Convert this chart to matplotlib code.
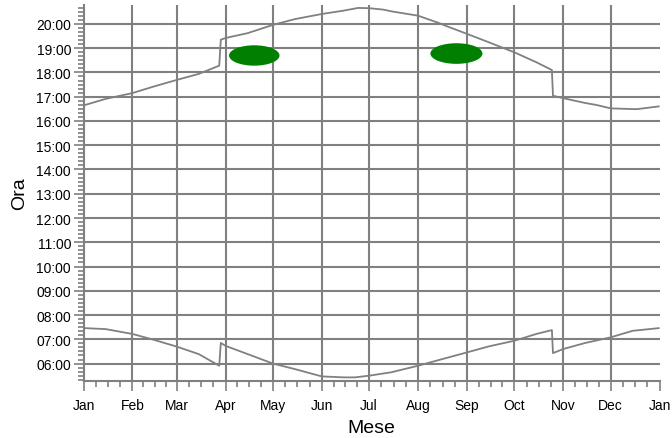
import numpy as np
import matplotlib
matplotlib.use('Agg')
import matplotlib.pyplot as plt
from matplotlib.patches import Ellipse
from matplotlib.ticker import FixedLocator, MultipleLocator, FuncFormatter

# ============================= DATA =============================
# day of year (0 = 1 Jan) and time in decimal hours
month_labels = ['Jan', 'Feb', 'Mar', 'Apr', 'May', 'Jun', 'Jul',
                'Aug', 'Sep', 'Oct', 'Nov', 'Dec', 'Jan']
month_starts = [0, 31, 59, 90, 120, 151, 181, 212, 243, 273, 304, 334, 365]

# sunset (upper curve), with the DST jumps
sunset_day = [1, 14, 31, 45, 59, 73, 86, 87, 90, 104, 120, 134, 151, 165, 174,
              181, 190, 195, 212, 226, 228, 243, 257, 273, 287, 296.8, 297.5,
              304, 318, 325, 334, 348, 351, 364.5]
sunset_hour = [16.66, 16.91, 17.15, 17.43, 17.69, 17.94, 18.28, 19.35, 19.42,
               19.62, 19.96, 20.20, 20.41, 20.55, 20.66, 20.65, 20.59, 20.52,
               20.34, 20.02, 19.96, 19.59, 19.24, 18.83, 18.42, 18.10, 17.04,
               16.94, 16.74, 16.66, 16.52, 16.49, 16.49, 16.60]

# sunrise (lower curve)
sunrise_day = [1, 14, 31, 45, 59, 73, 86, 87, 90, 104, 120, 134, 151, 165, 172,
               181, 195, 212, 226, 243, 257, 273, 287, 296.8, 297.5, 304, 318,
               334, 348, 364.5]
sunrise_hour = [7.46, 7.42, 7.22, 6.97, 6.70, 6.39, 5.91, 6.85, 6.73, 6.39,
                6.00, 5.77, 5.47, 5.43, 5.43, 5.50, 5.64, 5.91, 6.16, 6.46,
                6.71, 6.94, 7.22, 7.38, 6.43, 6.60, 6.85, 7.08, 7.35, 7.46]

# green spots: centre day, centre hour, span in days, span in hours
spot_day = [108.2, 236.3]
spot_hour = [18.70, 18.78]
spot_days = [32.0, 33.0]
spot_hours = [0.84, 0.85]

# ============================= PLOT =============================
grey = '#808080'
plt.rcParams['font.family'] = ['Liberation Sans', 'DejaVu Sans']

fig = plt.figure(figsize=(6.72, 4.39), dpi=100)
ax = fig.add_axes([0.1243, 0.1298, 0.8571, 0.8565])

ax.plot(sunset_day, sunset_hour, color=grey, lw=1.3, zorder=3)
ax.plot(sunrise_day, sunrise_hour, color=grey, lw=1.3, zorder=3)

for d, h, w, ht in zip(spot_day, spot_hour, spot_days, spot_hours):
    ax.add_patch(Ellipse((d, h), w, ht, facecolor='#007f00',
                         edgecolor='none', zorder=2))

ax.set_xlim(0, 365)
ax.set_ylim(5.28, 20.78)

# x ticks: months + quarters of each month
ax.xaxis.set_major_locator(FixedLocator(month_starts))
ax.set_xticklabels(month_labels)
minor_x = []
for i in range(12):
    a, b = month_starts[i], month_starts[i + 1]
    for k in (1, 2, 3):
        minor_x.append(a + k * (b - a) / 4)
ax.xaxis.set_minor_locator(FixedLocator(minor_x))

# y ticks: hours + 10 minutes
ax.yaxis.set_major_locator(FixedLocator(range(6, 21)))
ax.yaxis.set_major_formatter(FuncFormatter(lambda v, p: '%02d:00' % int(round(v))))
ax.yaxis.set_minor_locator(MultipleLocator(1 / 6))

ax.tick_params(which='major', length=7, width=1.2, color=grey,
               labelsize=10, pad=2)
ax.tick_params(axis='x', which='major', pad=5)
ax.tick_params(which='minor', length=4, width=1.2, color=grey)

# grid
for h in range(6, 21):
    ax.axhline(h, color=grey, lw=1.5, zorder=1)
for d in month_starts[1:-1]:
    ax.axvline(d, color=grey, lw=1.5, zorder=1)

for s in ['top', 'right']:
    ax.spines[s].set_visible(False)
for s in ['left', 'bottom']:
    ax.spines[s].set_color(grey)
    ax.spines[s].set_linewidth(1.5)

ax.set_xlabel('Mese', fontsize=14, labelpad=5)
ax.set_ylabel('Ora', fontsize=14, labelpad=6)

fig.savefig('out.png', dpi=100)
